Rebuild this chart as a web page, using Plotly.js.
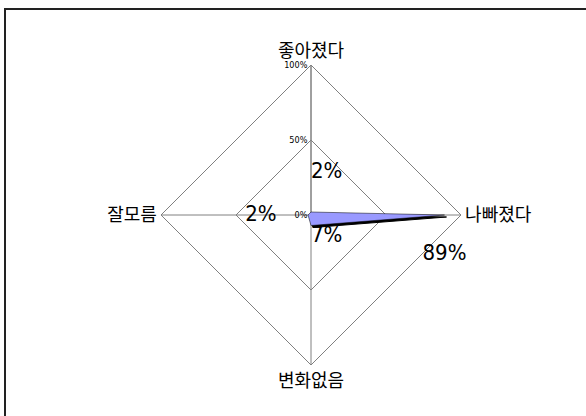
<!DOCTYPE html>
<html><head><meta charset="utf-8">
<script src="https://cdn.plot.ly/plotly-3.0.1.min.js"></script>
<style>html,body{margin:0;padding:0;background:#fff;overflow:hidden}</style>
</head><body><div id="chart" style="width:586px;height:416px"></div>
<script>
const categories = ['좋아졌다', '나빠졌다', '변화없음', '잘모름'];
const values = [2, 89, 7, 2];
const valueLabels = ['2%', '89%', '7%', '2%'];
const tickVals = [0, 50, 100];
const tickText = ['0%', '50%', '100%'];

const W = 586, H = 416, cx = 311, cy = 215, R = 150;
function dom(dx, dy) {
  return {x: [(cx - R + dx) / W, (cx + R + dx) / W],
          y: [(H - cy - R - dy) / H, (H - cy + R - dy) / H]};
}
const closedCats = categories.concat([categories[0]]);
const closedVals = values.concat([values[0]]);
const NB = '\u00a0';
const shownLabels = [
  valueLabels[0] + '<br>' + NB,
  NB + '<br>' + valueLabels[1],
  valueLabels[2],
  valueLabels[3] + NB.repeat(5)
];

const baseAngular = {rotation: 90, direction: 'clockwise', type: 'category',
  categoryarray: categories, gridshape: 'linear'};
const labelFont = 'DejaVu Sans Condensed, Liberation Sans Narrow, sans-serif';

const traces = [
  {type: 'scatterpolar', subplot: 'polar', r: values, theta: categories,
   mode: 'markers', marker: {opacity: 0, size: 1}, hoverinfo: 'skip', showlegend: false},
  {type: 'scatterpolar', subplot: 'polar2', r: closedVals, theta: closedCats,
   mode: 'lines', fill: 'toself', fillcolor: '#000000', line: {color: '#000000', width: 1},
   hoverinfo: 'skip', showlegend: false},
  {type: 'scatterpolar', subplot: 'polar3', r: closedVals, theta: closedCats,
   mode: 'lines', fill: 'toself', fillcolor: '#9999FF', line: {color: '#000000', width: 0.5},
   showlegend: false},
  {type: 'scatterpolar', subplot: 'polar3', r: values, theta: categories,
   mode: 'text', text: shownLabels,
   textposition: ['top right', 'bottom center', 'bottom right', 'middle left'],
   textfont: {family: labelFont, size: 22, color: '#000'},
   showlegend: false}
];

const hiddenRadial = {range: [0, 100], showgrid: false, showline: false, showticklabels: false, ticks: ''};
const hiddenAngular = Object.assign({}, baseAngular, {showgrid: false, showline: false, showticklabels: false, ticks: ''});

const layout = {
  width: W, height: H, margin: {l: 0, r: 0, t: 0, b: 0},
  paper_bgcolor: '#fff', showlegend: false,
  polar: {
    domain: dom(0, 0), bgcolor: 'rgba(0,0,0,0)', gridshape: 'linear',
    radialaxis: {range: [0, 100], tickvals: tickVals, ticktext: tickText, angle: 90,
      tickangle: 90, side: 'counterclockwise',
      showline: true, linecolor: '#808080', linewidth: 1,
      gridcolor: '#808080', gridwidth: 1, ticks: '',
      tickfont: {family: 'DejaVu Sans Condensed, sans-serif', size: 9, color: '#000'}},
    angularaxis: Object.assign({}, baseAngular, {showline: true, linecolor: '#808080', linewidth: 1,
      gridcolor: '#808080', gridwidth: 1, ticks: '',
      tickfont: {family: 'Noto Sans CJK KR, sans-serif', size: 18, color: '#000'}})
  },
  polar2: {domain: dom(2, 2), bgcolor: 'rgba(0,0,0,0)', gridshape: 'linear',
    radialaxis: hiddenRadial, angularaxis: hiddenAngular},
  polar3: {domain: dom(0, 0), bgcolor: 'rgba(0,0,0,0)', gridshape: 'linear',
    radialaxis: hiddenRadial, angularaxis: hiddenAngular},
  shapes: [{type: 'rect', xref: 'paper', yref: 'paper',
    x0: 5 / W, x1: 1.2, y0: -0.2, y1: 1 - 9 / H,
    line: {color: '#222', width: 2}, fillcolor: 'rgba(0,0,0,0)'}]
};
Plotly.newPlot('chart', traces, layout, {staticPlot: true});
</script></body></html>
